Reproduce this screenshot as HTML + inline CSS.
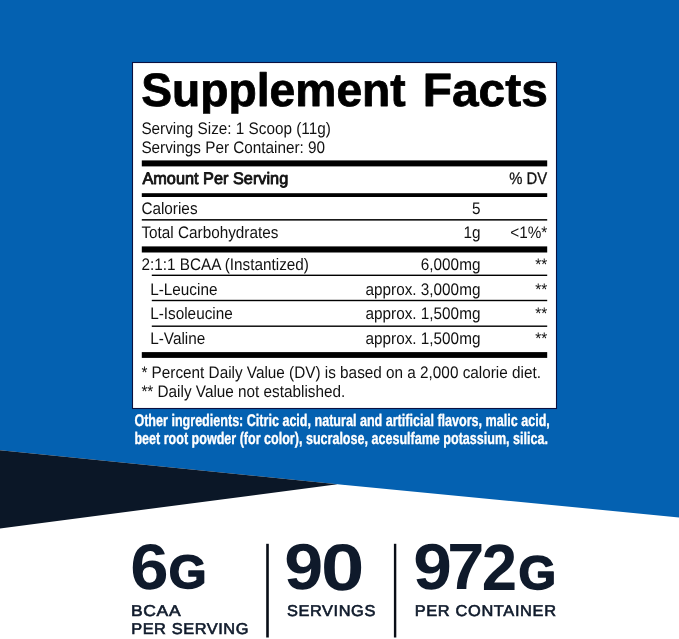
<!DOCTYPE html>
<html lang="en">
<head>
<meta charset="utf-8">
<title>Supplement Facts</title>
<style>
html,body{margin:0;padding:0;background:#fff;}
body{width:679px;height:639px;overflow:hidden;position:relative;font-family:"Liberation Sans",sans-serif;}
svg{position:absolute;left:0;top:0;display:block;}
text{font-family:"Liberation Sans",sans-serif;text-rendering:geometricPrecision;}
.r{font-size:16.7px;fill:#111;}
.b{font-weight:bold;}
.sb{stroke:#111;stroke-width:0.85px;stroke-linejoin:round;}
.mb{stroke:#111;stroke-width:0.3px;}
.e{text-anchor:end;}
.bar{fill:#000;}
.ttl{font-weight:bold;font-size:46.8px;fill:#000;stroke:#000;stroke-width:0.8px;stroke-linejoin:round;}
.oi{font-weight:bold;font-size:16.8px;fill:#fff;stroke:#fff;stroke-width:0.35px;}
.big{font-weight:bold;font-size:100px;fill:#0f1a2b;}
.g{stroke:#0f1a2b;stroke-width:3.2px;stroke-linejoin:round;}
.lab{font-size:15.6px;fill:#0f1a2b;stroke:#0f1a2b;stroke-width:0.6px;}
</style>
</head>
<body>
<svg width="679" height="639" viewBox="0 0 679 639">
<!-- background shapes -->
<polygon points="0,0 679,0 679,517.4 337.5,484.2 0,450.3" fill="#0461b1"/>
<polygon points="0,450.3 337.5,484.2 0,528.5" fill="#0b1727"/>
<!-- facts panel -->
<rect x="132.5" y="62.5" width="424" height="346" fill="#fff" stroke="#0a1040" stroke-width="1.1"/>
<clipPath id="tc"><rect x="133" y="63" width="423" height="50.8"/></clipPath>
<g clip-path="url(#tc)">
<text class="ttl" transform="translate(141.2 106.0) scale(0.9877 1)">Supplement</text>
<text class="ttl" transform="translate(422.8 106.0) scale(1.022 1)">Facts</text>
</g>
<text class="r" transform="translate(141.4 134) scale(0.917 1)">Serving Size: 1 Scoop (11g)</text>
<text class="r" transform="translate(141.4 153) scale(0.917 1)">Servings Per Container: 90</text>
<rect class="bar" x="141.8" y="160.4" width="405.4" height="6"/>
<text class="r sb" transform="translate(142.4 184) scale(0.9765 1)">Amount Per Serving</text>
<text class="r mb e" transform="translate(547.2 184) scale(0.89 1)">% DV</text>
<rect class="bar" x="141.8" y="193.2" width="405.4" height="3.8"/>
<text class="r" transform="translate(141.4 214) scale(0.917 1)">Calories</text>
<text class="r e" transform="translate(480.4 214) scale(0.917 1)">5</text>
<rect class="bar" x="141.8" y="219.1" width="405.4" height="1.5"/>
<text class="r" transform="translate(141.4 238) scale(0.917 1)">Total Carbohydrates</text>
<text class="r e" transform="translate(480.4 238) scale(0.917 1)">1g</text>
<text class="r e" transform="translate(547.2 238) scale(0.917 1)">&lt;1%*</text>
<rect class="bar" x="141.8" y="246.4" width="405.4" height="6.1"/>
<text class="r" transform="translate(141.4 270) scale(0.917 1)">2:1:1 BCAA (Instantized)</text>
<text class="r e" transform="translate(480.4 270) scale(0.917 1)">6,000mg</text>
<text class="r e" transform="translate(547.2 270) scale(0.917 1)">**</text>
<rect class="bar" x="151.8" y="274.6" width="395.4" height="1.4"/>
<text class="r" transform="translate(150.2 295) scale(0.917 1)">L-Leucine</text>
<text class="r e" transform="translate(480.4 295) scale(0.917 1)">approx. 3,000mg</text>
<text class="r e" transform="translate(547.2 295) scale(0.917 1)">**</text>
<rect class="bar" x="151.8" y="299.8" width="395.4" height="1.4"/>
<text class="r" transform="translate(150.2 319) scale(0.917 1)">L-Isoleucine</text>
<text class="r e" transform="translate(480.4 319) scale(0.917 1)">approx. 1,500mg</text>
<text class="r e" transform="translate(547.2 319) scale(0.917 1)">**</text>
<rect class="bar" x="151.8" y="325.5" width="395.4" height="1.4"/>
<text class="r" transform="translate(150.2 344) scale(0.917 1)">L-Valine</text>
<text class="r e" transform="translate(480.4 344) scale(0.917 1)">approx. 1,500mg</text>
<text class="r e" transform="translate(547.2 344) scale(0.917 1)">**</text>
<rect class="bar" x="141.8" y="352.1" width="405.4" height="5.8"/>
<text class="r" transform="translate(141.4 377.6) scale(0.917 1)">* Percent Daily Value (DV) is based on a 2,000 calorie diet.</text>
<text class="r" transform="translate(141.4 397) scale(0.917 1)">** Daily Value not established.</text>
<!-- other ingredients -->
<text class="oi" transform="translate(134.4 426) scale(0.7487 1)">Other ingredients: Citric acid, natural and artificial flavors, malic acid,</text>
<text class="oi" transform="translate(134.4 443.6) scale(0.7478 1)">beet root powder (for color), sucralose, acesulfame potassium, silica.</text>
<!-- stats -->
<g class="big">
<text transform="matrix(0.6898 0.0004 -0.0004 0.6453 130.13 589.19)">6</text>
<text class="g" transform="matrix(0.4867 0.0004 -0.0004 0.4695 168.67 588.36)">G</text>
<text transform="matrix(0.7000 0.0004 -0.0004 0.6480 284.23 589.48)">9</text>
<text transform="matrix(0.7794 0.0004 -0.0004 0.6572 320.99 589.99)">0</text>
<text transform="matrix(0.6948 0.0004 -0.0004 0.6494 413.20 589.08)">9</text>
<text transform="matrix(0.6673 0.0004 -0.0004 0.6556 447.34 589.20)">7</text>
<text transform="matrix(0.6359 0.0004 -0.0004 0.6554 481.75 589.50)">2</text>
<text class="g" transform="matrix(0.4830 0.0004 -0.0004 0.4718 518.57 588.60)">G</text>
</g>
<rect x="266.2" y="543.8" width="2.6" height="93.7" fill="#080d16"/>
<rect x="393.9" y="543.8" width="2.4" height="93.7" fill="#080d16"/>
<text class="lab" transform="matrix(1.12 0.0004 -0.0004 1 131.08 616.3)" style="letter-spacing:0.564px">BCAA</text>
<text class="lab" transform="matrix(1.05 0.0004 -0.0004 1 131.13 633.7)" style="letter-spacing:0.547px">PER SERVING</text>
<text class="lab" transform="matrix(1.05 0.0004 -0.0004 1 286.95 616.4)" style="letter-spacing:0.553px">SERVINGS</text>
<text class="lab" transform="matrix(1.05 0.0004 -0.0004 1 414.69 616.4)" style="letter-spacing:0.623px">PER CONTAINER</text>
</svg>
</body>
</html>
